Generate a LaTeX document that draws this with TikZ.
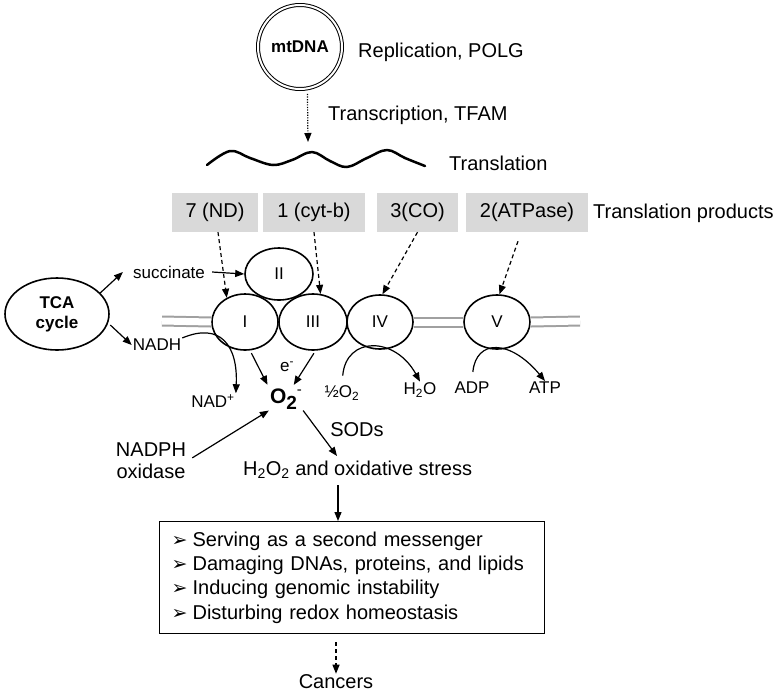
\documentclass[tikz,border=0pt]{standalone}
\usepackage{fontspec}
\setmainfont{Liberation Sans}
\newfontfamily\dejavu{DejaVu Sans}
\usetikzlibrary{shapes.geometric,arrows.meta,calc}
\definecolor{boxgray}{RGB}{217,217,217}
\definecolor{membgray}{RGB}{160,160,160}
\newcommand\fsbig{\fontsize{20}{24.3}\selectfont}
\newcommand\fssmall{\fontsize{17}{20}\selectfont}
\newcommand\bul{{\dejavu\fontsize{19}{19}\selectfont ➢}\hspace{5pt}}
\begin{document}
\begin{tikzpicture}[x=1pt,y=-1pt,
  arr/.style={line width=1.2pt,-{Triangle[length=9pt,width=7pt]}},
  darr/.style={arr,dash pattern=on 4pt off 3pt},
  dotarr/.style={arr,dash pattern=on 1.2pt off 1.4pt},
  cplx/.style={ellipse,draw,line width=1.6pt,minimum width=66pt,minimum height=56pt,inner sep=0pt,font=\fssmall},
  gbox/.style={fill=boxgray,minimum height=39pt,inner sep=0pt,font=\fsbig},
  big/.style={font=\fsbig,inner sep=1pt},
  small/.style={font=\fssmall,inner sep=1pt},
  memb/.style={draw=membgray,line width=2pt,double=white,double distance=7pt}]
\useasboundingbox (0,0) rectangle (778,694);

% mtDNA
\node[circle,draw,line width=1pt,double,double distance=2pt,minimum size=84pt,inner sep=0pt,
      font=\fontsize{17}{20}\bfseries] (mt) at (300,47) {mtDNA};
\node[big,anchor=west] (repl) at (357,52) {Replication, POLG};
\coordinate (wv) at (308,142);
\draw[dotarr,shorten <=5pt] (mt.-80) -- (wv);
\node[big,anchor=west] (trans) at (327,115) {Transcription, TFAM};
\draw[line width=2.5pt,line join=round,line cap=round] plot[smooth,tension=0.6] coordinates
  {(207,165) (230,151) (250,158) (273,165) (292,160) (312,152) (330,161) (347,167) (367,158) (387,150) (405,158) (425,166)};
\node[big,anchor=west] (transl) at (448,163) {Translation};

% translation products
\node[gbox,minimum width=86pt] (b1) at (215,212.5) {7 (ND)};
\node[gbox,minimum width=102pt] (b2) at (314,212.5) {1 (cyt-b)};
\node[gbox,minimum width=81pt] (b3) at (417.5,212.5) {3(CO)};
\node[gbox,minimum width=122pt] (b4) at (527,212.5) {2(ATPase)};
\node[big,anchor=west] (tp) at (592,213) {Translation products};

% complexes
\node[cplx] (I) at (245,322) {I};
\node[cplx,minimum width=68pt] (III) at (313,322) {III};
\node[cplx,minimum height=54pt] (IV) at (380,322) {IV};
\node[cplx,minimum height=54pt] (V) at (497,322) {V};
\node[cplx,minimum width=68pt,minimum height=52pt] (II) at (279,274) {II};
\coordinate (mL) at (162,321);
\coordinate (mR) at (580,321);
\draw[memb] (mL) -- (I.west);
\draw[memb] (IV.east) -- (V.west);
\draw[memb] (V.east) -- (mR);

\draw[darr] ($(b1.south)+(3,0)$) -- (I.127);
\draw[darr] (b2.south) -- (III.75);
\draw[darr] (b3.south) -- (IV.85);
\draw[darr] ($(b4.south)+(-9,9)$) -- (V.85);

% TCA
\node[ellipse,draw,line width=1.6pt,minimum width=104pt,minimum height=72pt,inner sep=0pt,
      align=center,font=\fontsize{17}{20}\bfseries] (tca) at (57,314) {TCA\\cycle};
\node[small,inner sep=0pt] (succ) at (169,272) {succinate};
\node[small] (nadh) at (157,345) {NADH};
\draw[arr] (tca.26) -- ($(succ.west)+(-10,0)$);
\draw[arr] ($(succ.east)+(7,0)$) -- (II.west);
\draw[arr,shorten <=3pt] (tca.-10) -- (nadh.west);

\node[small] (nad) at (213,401) {NAD\textsuperscript{+}};
\draw[arr] (nadh.north east) .. controls (220,322) and (238,345) .. (nad.north east);

% superoxide
\node[inner sep=1pt] (O2) at (286,399) {{\fontsize{21}{24}\bfseries O}\raisebox{-6pt}{\fontsize{19}{22}\bfseries 2}\raisebox{9pt}{\fontsize{15}{18}\selectfont -}};
\node[small] (e) at (287,367) {e\textsuperscript{-}};
\draw[arr,shorten <=3pt,shorten >=3pt] (I.-80) -- (O2.north west);
\draw[arr,shorten <=3pt,shorten >=3pt] (III.-85) -- (O2.62);

% IV and V reactions
\node[small] (half) at (342,393) {½O\textsubscript{2}};
\node[small] (h2o) at (420,390) {H\textsubscript{2}O};
\node[small] (adp) at (472,388) {ADP};
\node[small] (atp) at (545,388) {ATP};
\draw[arr,shorten <=9pt] (half.north) .. controls (346,336) and (395,336) .. (h2o.north);
\draw[arr,shorten <=9pt] (adp.north) .. controls (476,339) and (510,339) .. (atp.north);

% NADPH oxidase
\node[align=center,font=\fontsize{20}{22}\selectfont,inner sep=1pt] (nadph) at (151,461) {NADPH\\oxidase};
\draw[arr,shorten <=6pt] (nadph.east) -- (O2.south west);

% SODs and H2O2
\node[big] (sod) at (357,430) {SODs};
\node[big,anchor=west] (hoo) at (242,470) {H\textsubscript{2}O\textsubscript{2} and oxidative stress};
\draw[arr] (O2.south east) -- ($(hoo.north west)+(95,-4)$);

% effects box
\node[draw,line width=1.3pt,minimum width=385pt,minimum height=112pt,anchor=north west,
      inner xsep=12pt,inner ysep=0pt,text width=361pt,align=left,font=\fsbig] (eff) at (159,521)
  {\bul Serving as a second messenger\\
   \bul Damaging DNAs, proteins, and lipids\\
   \bul Inducing genomic instability\\
   \bul Disturbing redox homeostasis};
\draw[arr] ($(hoo.south west)+(96,5)$) -- ($(eff.north west)+(179,0)$);

\node[big] (can) at (336,682) {Cancers};
\draw[darr,shorten <=8pt] (eff.south -| can.north) -- (can.north);
\end{tikzpicture}
\end{document}
